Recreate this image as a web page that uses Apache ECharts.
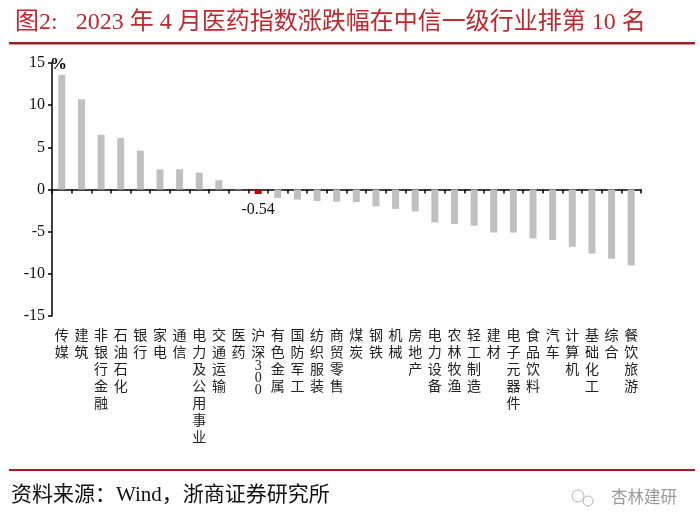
<!DOCTYPE html>
<html>
<head>
<meta charset="utf-8">
<script src="https://cdn.jsdelivr.net/npm/echarts@6/dist/echarts.min.js"></script>
<style>html,body{margin:0;padding:0;background:#fff}#c{width:700px;height:530px}</style>
</head>
<body>
<div id="c"></div>
<script>
const categories = ['传媒','建筑','非银行金融','石油石化','银行','家电','通信','电力及公用事业','交通运输','医药','沪深300','有色金属','国防军工','纺织服装','商贸零售','煤炭','钢铁','机械','房地产','电力设备','农林牧渔','轻工制造','建材','电子元器件','食品饮料','汽车','计算机','基础化工','综合','餐饮旅游'];
const values = [13.6, 10.7, 6.5, 6.1, 4.6, 2.4, 2.4, 2.0, 1.1, 0.1, -0.54, -1.0, -1.2, -1.35, -1.45, -1.5, -2.0, -2.3, -2.6, -3.9, -4.1, -4.3, -5.1, -5.1, -5.8, -6.0, -6.8, -7.6, -8.2, -9.0];
const highlightCategory = '沪深300';
const yMin = -15, yMax = 15, yStep = 5;
const titleText = '图2:   2023 年 4 月医药指数涨跌幅在中信一级行业排第 10 名';
const sourceText = '资料来源：Wind，浙商证券研究所';
const watermarkText = '杏林建研';

const serif = '"Liberation Serif", "Noto Sans CJK SC", serif';
const chart = echarts.init(document.getElementById('c'), null, {renderer: 'canvas'});

function verticalLabel(name) {
  const m = name.match(/^(\D*)(\d+)$/);
  if (m) {
    return m[1].split('').join('\n') + '\n' + m[2].split('').map(d => '{d|' + d + '}').join('\n');
  }
  return name.split('').join('\n');
}

const option = {
  animation: false,
  backgroundColor: '#fff',
  title: {
    text: titleText,
    left: 10, top: 6,
    textStyle: {fontFamily: serif, fontSize: 24, fontWeight: 'normal', color: '#c0282d'}
  },
  graphic: [
    {type: 'rect', left: 9, top: 42, shape: {width: 686, height: 2.5}, style: {fill: '#a51d24'}},
    {type: 'rect', left: 9, top: 469, shape: {width: 686, height: 2}, style: {fill: '#a51d24'}},
    {type: 'text', left: 11, top: 485, style: {text: sourceText, font: '21px ' + serif, fill: '#111'}},
    {type: 'circle', shape: {cx: 578, cy: 496, r: 6}, style: {fill: 'none', stroke: '#b5b5b5', lineWidth: 1}},
    {type: 'circle', shape: {cx: 588, cy: 501, r: 5}, style: {fill: 'none', stroke: '#b5b5b5', lineWidth: 1}},
    {type: 'text', left: 611, top: 488, style: {text: watermarkText, font: '16.5px "Noto Sans CJK SC", sans-serif', fill: '#9a9a9a'}},
    {type: 'text', left: 50, top: 56, style: {text: '%', font: 'bold 17px ' + serif, fill: '#000'}}
  ],
  grid: {left: 52, right: 59, top: 63, bottom: 214, containLabel: false},
  xAxis: [
    {
      type: 'category', data: categories, position: 'bottom',
      axisLine: {onZero: true, lineStyle: {color: '#000', width: 1.5}},
      axisTick: {show: true, interval: 0, length: 4, lineStyle: {color: '#000', width: 1.5}},
      axisLabel: {show: false}
    },
    {
      type: 'category', data: categories, position: 'bottom',
      axisLine: {show: false, onZero: false},
      axisTick: {show: false},
      axisLabel: {
        show: true, interval: 0, margin: 10,
        fontFamily: '"Noto Sans CJK SC", serif', fontSize: 14, lineHeight: 17, color: '#222',
        verticalAlign: 'top',
        formatter: verticalLabel,
        rich: {d: {fontFamily: serif, fontSize: 14, lineHeight: 12, color: '#222'}}
      }
    }
  ],
  yAxis: {
    type: 'value', min: yMin, max: yMax, interval: yStep,
    axisLine: {show: true, lineStyle: {color: '#000', width: 1.5}},
    axisTick: {show: true, length: 4, lineStyle: {color: '#000', width: 1.5}},
    axisLabel: {fontFamily: serif, fontSize: 16, color: '#111', margin: 7},
    splitLine: {show: false}
  },
  series: [{
    type: 'bar', xAxisIndex: 0, barWidth: 7,
    data: values.map((v, i) => {
      const hi = categories[i] === highlightCategory;
      return {
        value: v,
        itemStyle: {color: hi ? '#c00000' : '#c0c0c0'},
        label: hi ? {show: true, position: 'bottom', distance: 8, formatter: '{c}', fontFamily: serif, fontSize: 16, color: '#111'} : {show: false}
      };
    })
  }]
};
chart.setOption(option);
</script>
</body>
</html>
